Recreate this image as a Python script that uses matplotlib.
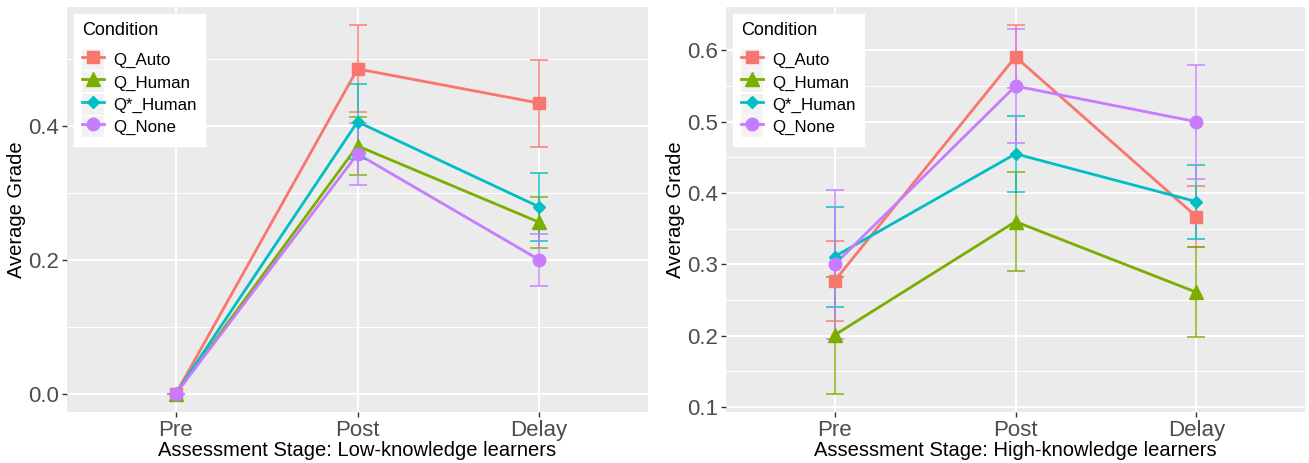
import matplotlib
matplotlib.use("Agg")
import matplotlib.pyplot as plt
import numpy as np
from matplotlib.patches import Rectangle
from matplotlib.legend_handler import HandlerLine2D

plt.rcParams["font.family"] = ["Liberation Sans", "DejaVu Sans"]

stages = ["Pre", "Post", "Delay"]
conditions = ["Q_Auto", "Q_Human", "Q*_Human", "Q_None"]

# low-knowledge learners: mean and error half-width per stage
low_auto = [0.0, 0.485, 0.434]
low_auto_err = [0.0, 0.065, 0.065]
low_human = [0.0, 0.370, 0.256]
low_human_err = [0.0, 0.043, 0.038]
low_star = [0.0, 0.406, 0.279]
low_star_err = [0.0, 0.056, 0.051]
low_none = [0.0, 0.358, 0.200]
low_none_err = [0.0, 0.046, 0.039]

# high-knowledge learners
high_auto = [0.277, 0.591, 0.367]
high_auto_err = [0.056, 0.044, 0.043]
high_human = [0.201, 0.360, 0.261]
high_human_err = [0.082, 0.069, 0.063]
high_star = [0.311, 0.455, 0.388]
high_star_err = [0.070, 0.053, 0.052]
high_none = [0.300, 0.550, 0.500]
high_none_err = [0.105, 0.080, 0.080]

colors = ["#F8766D", "#7CAE00", "#00BFC4", "#C77CFF"]
markers = ["s", "^", "D", "o"]
msizes = [8.5, 9.5, 6.0, 9.0]


class KeyHandler(HandlerLine2D):
    # ggplot-style legend key: light grey square behind line + marker
    def create_artists(self, legend, orig_handle, xdescent, ydescent,
                       width, height, fontsize, trans):
        bg = Rectangle((-xdescent, -ydescent), width, height,
                       facecolor="#F2F2F2", edgecolor="none", transform=trans)
        arts = super().create_artists(legend, orig_handle, xdescent, ydescent,
                                      width, height, fontsize, trans)
        return [bg] + list(arts)


def draw_panel(ax, series, errors, xlabel, major, minor, ticklabels):
    x = np.arange(len(stages))
    handles = []
    for i, name in enumerate(conditions):
        ax.plot(x, series[i], color=colors[i], lw=2.0, zorder=3)
        ax.errorbar(x, series[i], yerr=errors[i], fmt="none", ecolor=colors[i],
                    elinewidth=1.2, capsize=6.5, capthick=1.2, alpha=0.85, zorder=4)
        ax.plot(x, series[i], linestyle="none", marker=markers[i], ms=msizes[i],
                color=colors[i], mec=colors[i], zorder=5)
        h, = ax.plot([], [], color=colors[i], lw=2.0, marker=markers[i],
                     ms=msizes[i], mec=colors[i], label=name)
        handles.append(h)

    lo = min(min(np.array(s) - np.array(e)) for s, e in zip(series, errors))
    hi = max(max(np.array(s) + np.array(e)) for s, e in zip(series, errors))
    pad = 0.05 * (hi - lo)
    ax.set_ylim(lo - pad, hi + pad)
    ax.set_xlim(-0.6, len(stages) - 0.4)

    ax.set_facecolor("#EBEBEB")
    ax.set_xticks(x)
    ax.set_xticklabels(stages)
    ax.set_yticks(major)
    ax.set_yticklabels(ticklabels)
    ax.set_yticks(minor, minor=True)
    ax.grid(True, which="major", color="white", lw=1.4, zorder=0)
    ax.grid(True, which="minor", axis="y", color="white", lw=0.7, zorder=0)
    ax.set_axisbelow(True)
    for sp in ax.spines.values():
        sp.set_visible(False)
    ax.tick_params(axis="both", which="major", length=3.5, width=1.0, color="#333333",
                   labelsize=16, labelcolor="#4D4D4D", pad=2.5)
    ax.tick_params(axis="y", which="minor", length=0)
    ax.set_xlabel(xlabel, fontsize=14.5, color="black", labelpad=0)
    ax.set_ylabel("Average Grade", fontsize=14.5, color="black", labelpad=1)

    leg = ax.legend(handles=handles, title="Condition",
                    handler_map={h: KeyHandler() for h in handles},
                    loc="upper left", bbox_to_anchor=(0.012, 0.983),
                    borderaxespad=0, fontsize=12.2, title_fontsize=13,
                    frameon=True, fancybox=False, edgecolor="white", framealpha=1,
                    handlelength=1.25, handleheight=1.53, handletextpad=0.55,
                    labelspacing=0.08, borderpad=0.5)
    leg._legend_box.align = "left"
    leg._legend_box.sep = 7
    leg.set_zorder(10)
    return leg


fig = plt.figure(figsize=(13.09, 4.63), dpi=100)
ax1 = fig.add_axes([67 / 1309, 51 / 463, 581 / 1309, 405 / 463])
ax2 = fig.add_axes([726 / 1309, 51 / 463, 579 / 1309, 405 / 463])

draw_panel(ax1,
           [low_auto, low_human, low_star, low_none],
           [low_auto_err, low_human_err, low_star_err, low_none_err],
           "Assessment Stage: Low-knowledge learners",
           [0.0, 0.2, 0.4], [0.1, 0.3, 0.5], ["0.0", "0.2", "0.4"])

draw_panel(ax2,
           [high_auto, high_human, high_star, high_none],
           [high_auto_err, high_human_err, high_star_err, high_none_err],
           "Assessment Stage: High-knowledge learners",
           [0.1, 0.2, 0.3, 0.4, 0.5, 0.6], [0.15, 0.25, 0.35, 0.45, 0.55],
           ["0.1", "0.2", "0.3", "0.4", "0.5", "0.6"])

fig.savefig("out.png", dpi=100, facecolor="white")
